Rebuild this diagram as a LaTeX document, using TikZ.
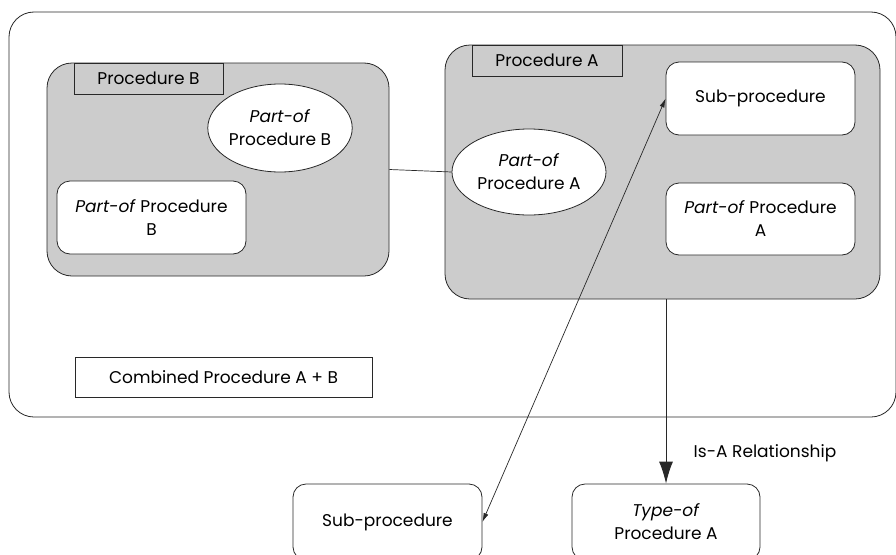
\documentclass[tikz,border=0pt]{standalone}
\usepackage{fontspec}
\setmainfont{Poppins}
\usetikzlibrary{shapes.geometric,arrows.meta}
\definecolor{procgray}{RGB}{204,204,204}
\definecolor{linec}{RGB}{40,40,40}
\tikzset{
  txt/.style={font={\fontsize{17}{23}\selectfont}, align=center, text=black},
  base/.style={txt, draw=linec, line width=0.8pt, inner sep=0pt},
  grp/.style={base, rounded corners=25pt, fill=procgray},
  lbl/.style={base, fill=procgray},
  rbox/.style={base, rounded corners=13pt, fill=white},
  ell/.style={base, ellipse, fill=white},
  plainbox/.style={base, fill=white},
  conn/.style={draw=linec, line width=0.7pt},
}
\begin{document}
\begin{tikzpicture}[x=1pt,y=-1pt]
\useasboundingbox (0,0) rectangle (896,554);
\clip (0,0) rectangle (896,554);
\fill[white] (0,0) rectangle (896,554);
\node[base, rounded corners=25pt, minimum width=887pt, minimum height=405pt] (outer) at (452.5,214.5) {};
\node[grp, minimum width=342pt, minimum height=213pt] (groupB) at (218,169.5) {};
\node[lbl, minimum width=149pt, minimum height=31pt] (labelB) at (148.5,78.5) {Procedure B};
\node[ell, minimum width=122pt, minimum height=88pt] (ellB) at (280,128) {\textit{Part-of}\\Procedure B};
\node[rbox, minimum width=189pt, minimum height=73pt] (boxB) at (151.5,217.5) {\textit{Part-of} Procedure\\B};
\node[grp, minimum width=435pt, minimum height=254pt] (groupA) at (662.5,172) {};
\node[lbl, minimum width=150pt, minimum height=31pt] (labelA) at (547,60.5) {Procedure A};
\node[rbox, minimum width=189pt, minimum height=73pt] (subA) at (760.5,98.5) {Sub-procedure};
\node[rbox, minimum width=189pt, minimum height=72pt] (partA) at (760.5,219) {\textit{Part-of} Procedure\\A};
\node[ell, minimum width=154pt, minimum height=86pt] (ellA) at (529,172) {\textit{Part-of}\\Procedure A};
\node[plainbox, minimum width=297pt, minimum height=40pt] (comb) at (223.5,377) {Combined Procedure A + B};
\node[rbox, minimum width=189pt, minimum height=76pt] (botSub) at (387.5,522) {Sub-procedure};
\node[rbox, minimum width=188pt, minimum height=76pt] (typeA) at (666,522) {\textit{Type-of}\\Procedure A};
\node[txt] (isa) at (765,453) {Is-A Relationship};
\draw[conn] (groupB.east) -- (ellA.west);
\draw[conn, {Latex[length=9pt,width=5pt]}-{Latex[length=9pt,width=5pt]}] (botSub.east) -- (subA.west);
\draw[conn, line width=1pt, -{Latex[length=22pt,width=14pt]}] (typeA.north |- groupA.south) -- (typeA.north);
\end{tikzpicture}
\end{document}
